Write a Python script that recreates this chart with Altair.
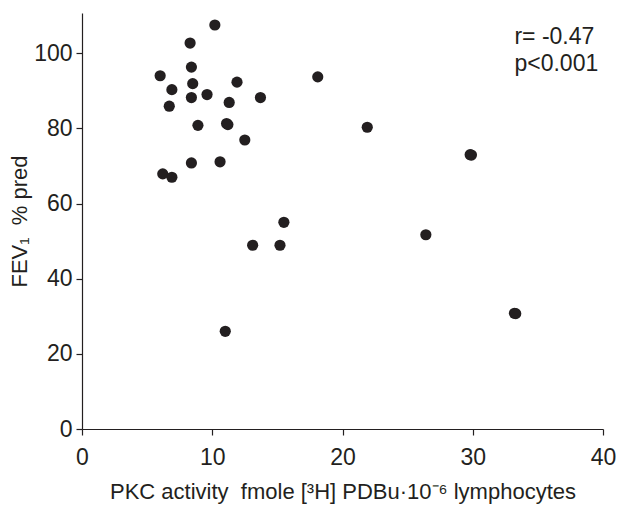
import altair as alt
import pandas as pd

# PKC activity (x) vs FEV1 % pred (y)
pkc = [10.2, 8.3, 8.4, 6.0, 8.5, 11.9, 6.9, 9.6, 8.4, 13.7, 11.3, 6.7, 8.9,
       11.1, 11.2, 12.5, 8.4, 10.6, 6.2, 6.9, 15.5, 13.1, 15.2, 11.0, 33.2,
       33.3, 18.1, 21.9, 29.8, 29.9, 26.4]
fev1 = [107.5, 102.7, 96.3, 94.0, 91.9, 92.3, 90.3, 89.0, 88.2, 88.2, 86.9,
        85.9, 80.8, 81.3, 81.0, 76.9, 70.8, 71.1, 67.9, 67.0, 55.0, 48.9,
        48.9, 26.0, 30.8, 30.7, 93.7, 80.3, 73.0, 72.9, 51.7]

annot_lines = ["r= -0.47", "p<0.001"]
annot_x = [33.2, 33.2]
annot_y = [104.4, 97.2]

FONT = "Liberation Sans, Arial, sans-serif"

pts = pd.DataFrame({"x": pkc, "y": fev1})
ann = pd.DataFrame({"t": annot_lines, "x": annot_x, "y": annot_y})

xs = alt.Scale(domain=[0, 40], nice=False, zero=False)
ys = alt.Scale(domain=[0, 110.7], nice=False, zero=False)

points = alt.Chart(pts).mark_circle(size=125, color="#231f20", opacity=1).encode(
    x=alt.X("x:Q", scale=xs,
            axis=alt.Axis(title="PKC activity\u00a0\u00a0fmole [³H] PDBu·10⁻⁶ lymphocytes",
                          values=[0, 10, 20, 30, 40], labelPadding=11,
                          titlePadding=12)),
    y=alt.Y("y:Q", scale=ys,
            axis=alt.Axis(title="FEV₁\u00a0\u00a0% pred", values=[0, 20, 40, 60, 80, 100],
                          labelPadding=4, titlePadding=2)),
)

text = alt.Chart(ann).mark_text(align="left", baseline="middle", font=FONT,
                                fontSize=23, color="#231f20").encode(
    x=alt.X("x:Q", scale=xs),
    y=alt.Y("y:Q", scale=ys),
    text="t:N",
)

chart = (points + text).properties(
    width=521, height=416,
    autosize=alt.AutoSizeParams(type="none"),
    padding={"left": 74, "top": 5, "right": 13, "bottom": 76},
).configure_view(stroke=None).configure_axis(
    grid=False, domainColor="#231f20", tickColor="#231f20", domainWidth=1.2,
    tickWidth=1.2, tickSize=6, labelFont=FONT, labelFontSize=23,
    labelColor="#231f20", titleFont=FONT, titleFontSize=22,
    titleFontWeight="normal", titleColor="#231f20", labelFlush=False,
)

chart.save("out.html", embed_options={"renderer": "svg", "actions": False})
